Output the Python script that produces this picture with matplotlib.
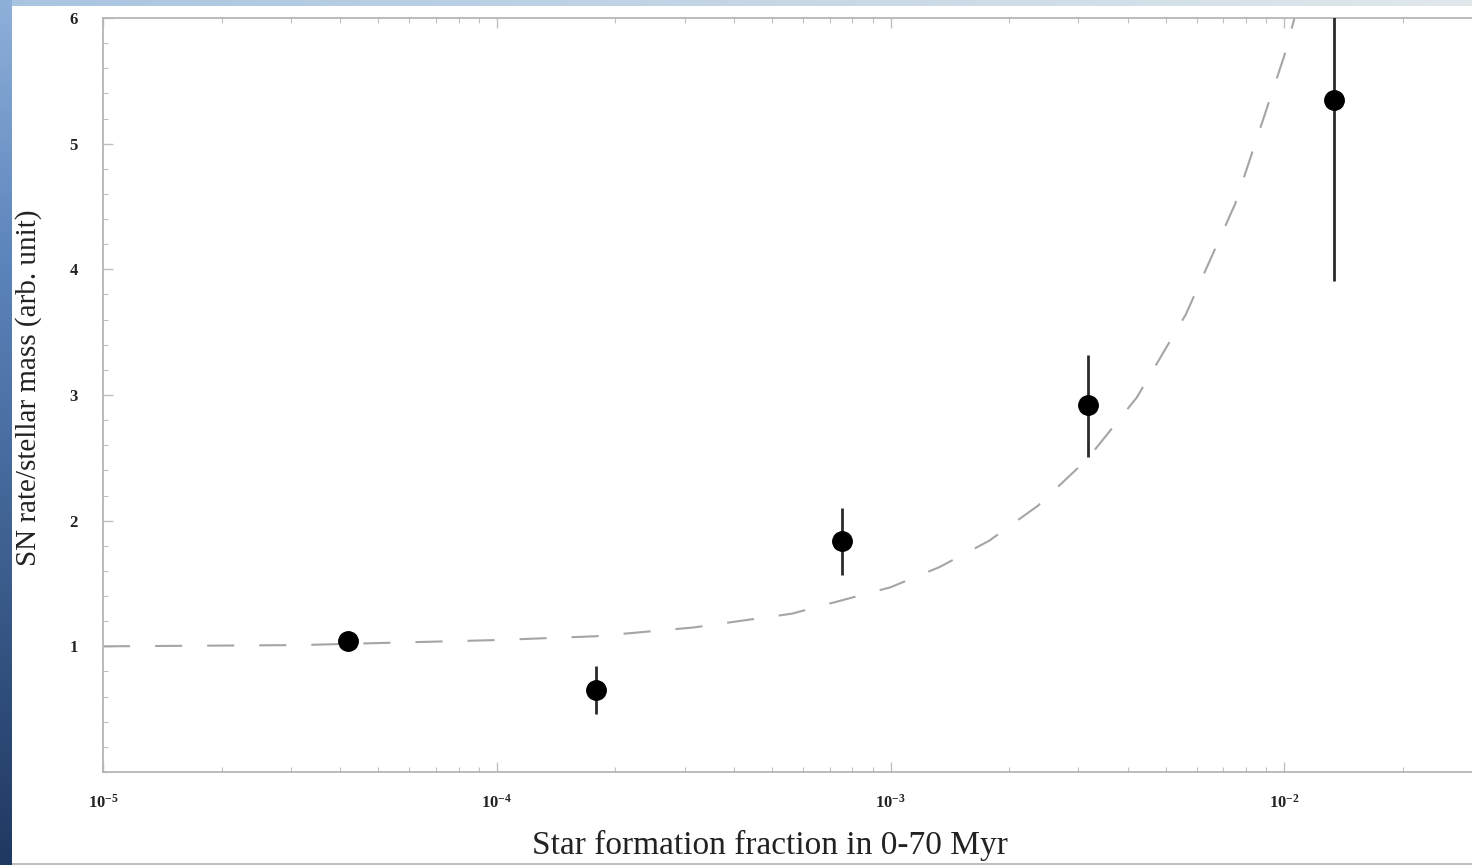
import numpy as np
import matplotlib
matplotlib.use("Agg")
import matplotlib.pyplot as plt
from matplotlib.ticker import LogLocator, FixedLocator, MultipleLocator, LogFormatterMathtext

# ---- data ----
sf_fraction = [4.2e-5, 1.79e-4, 7.55e-4, 3.17e-3, 1.34e-2]
sn_rate = [1.04, 0.65, 1.84, 2.92, 5.35]
err_low = [0.0, 0.19, 0.27, 0.41, 1.44]
err_high = [0.0, 0.19, 0.26, 0.40, 1.50]

model_x = [1e-5, 3.16e-5, 1e-4, 1.78e-4, 3.16e-4, 5.62e-4, 1e-3, 1.33e-3,
           1.78e-3, 2.37e-3, 3.16e-3, 4.22e-3, 5.62e-3, 7.5e-3, 1e-2, 1.07e-2]
model_y = [1.00, 1.01, 1.05, 1.08, 1.15, 1.26, 1.47, 1.63,
           1.84, 2.12, 2.49, 2.98, 3.64, 4.52, 5.70, 6.04]

y_ticks = [1, 2, 3, 4, 5, 6]
x_ticks = [1e-5, 1e-4, 1e-3, 1e-2]

plt.rcParams['font.family'] = ['Liberation Serif', 'DejaVu Serif']
plt.rcParams['mathtext.fontset'] = 'custom'
plt.rcParams['mathtext.rm'] = 'Liberation Serif'
plt.rcParams['mathtext.it'] = 'Liberation Serif:italic'
plt.rcParams['mathtext.bf'] = 'Liberation Serif:bold'
plt.rcParams['mathtext.default'] = 'rm'

W, H = 1472, 865
fig = plt.figure(figsize=(W / 100, H / 100), dpi=100)
fig.patch.set_facecolor('white')

# slide background: blue strip on left, light strip on top
bg = np.ones((H, W, 3))
left_w, top_h = 12, 6
t = np.linspace(0, 1, H)[:, None]
top_c = np.array([0.56, 0.69, 0.85])
mid_c = np.array([0.36, 0.52, 0.74])
bot_c = np.array([0.12, 0.22, 0.38])
col = np.where(t < 0.3, top_c + (mid_c - top_c) * (t / 0.3),
               mid_c + (bot_c - mid_c) * ((t - 0.3) / 0.7))
bg[:, :left_w, :] = col[:, None, :]
s = np.linspace(0, 1, W)[:, None]
c0 = np.array([0.66, 0.77, 0.88])
c1 = np.array([0.88, 0.91, 0.92])
tc = c0 + (c1 - c0) * s
bg[:top_h, left_w:, :] = tc[None, left_w:, :]
bg[H - 2:, left_w:, :] = 0.75
axbg = fig.add_axes([0, 0, 1, 1])
axbg.imshow(bg, aspect='auto', interpolation='bilinear')
axbg.axis('off')

ax = fig.add_axes([103 / W, (H - 772) / H, (W - 103 + 3) / W, (772 - 18) / H])
ax.set_facecolor('white')
ax.set_xscale('log')
ax.set_xlim(1e-5, 3.05e-2)
ax.set_ylim(0, 6)

ax.plot(model_x, model_y, color='#a5a5a5', lw=1.5, linestyle=(0, (13, 12)), zorder=2)
ax.errorbar(sf_fraction, sn_rate, yerr=[err_low, err_high], fmt='o', color='black',
            ecolor='#2a2a2a', elinewidth=2.0, capsize=0, markersize=14, zorder=3,
            clip_on=True)

for sp in ax.spines.values():
    sp.set_color('#b5b5b5')
    sp.set_linewidth(1.3)
ax.spines['right'].set_visible(False)

ax.xaxis.set_major_locator(FixedLocator(x_ticks))
ax.xaxis.set_minor_locator(LogLocator(base=10, subs=np.arange(2, 10)))
ax.xaxis.set_major_formatter(LogFormatterMathtext())
ax.yaxis.set_major_locator(FixedLocator(y_ticks))
ax.yaxis.set_minor_locator(MultipleLocator(0.2))
ax.set_yticklabels([str(v) for v in y_ticks])

ax.tick_params(which='both', direction='in', color='#c0c0c0', top=True, right=False)
ax.tick_params(which='major', length=7, width=1.0)
ax.tick_params(which='minor', length=3.5, width=0.8)
ax.tick_params(axis='y', which='major', pad=18, labelsize=12, labelcolor='#222222')
ax.tick_params(axis='x', which='major', pad=16, labelsize=12, labelcolor='#222222')
for lab in ax.get_yticklabels() + ax.get_xticklabels():
    lab.set_fontweight('bold')

ax.set_xlabel('Star formation fraction in 0-70 Myr', fontsize=24, color='#222222')
ax.set_ylabel('SN rate/stellar mass (arb. unit)', fontsize=21, color='#222222')
ax.xaxis.set_label_coords((770 - 103) / (W - 100), (772 - 830) / 754)
ax.yaxis.set_label_coords((42 - 103) / (W - 100), 0.51)

fig.savefig('out.png', dpi=100, facecolor='white')
